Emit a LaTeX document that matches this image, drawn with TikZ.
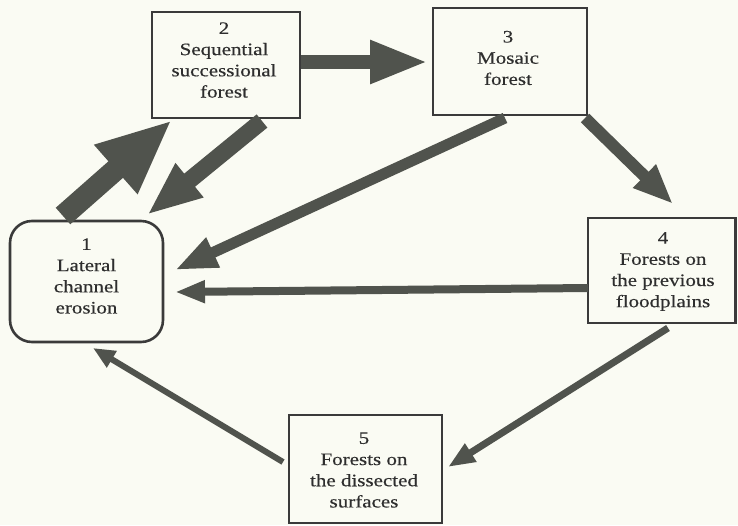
\documentclass[tikz,border=0pt]{standalone}
\usepackage{fontspec}
\setmainfont[FakeStretch=1.2,FakeBold=0.4]{Liberation Serif}
\usetikzlibrary{arrows.meta}
\definecolor{bgc}{HTML}{FAFBF3}
\definecolor{arrc}{HTML}{50534D}
\definecolor{boxc}{HTML}{3A3A3A}
\definecolor{txtc}{HTML}{2E2E2E}
\tikzset{
  boxnode/.style={draw=boxc, line width=2.6pt, fill=none, inner sep=0pt},
  lbl/.style={align=center, font=\fontsize{17.5}{21.2}\selectfont, text=txtc, inner sep=0pt},
  blk/.style n args={3}{draw=arrc, line width=#1, line cap=butt, -{Triangle[length=#2, width=#3]}}
}
\begin{document}
\begin{tikzpicture}[x=1pt,y=-1pt]
\fill[bgc] (0,0) rectangle (738,525);
\useasboundingbox (0,0) rectangle (738,525);
% boxes
\node[boxnode, rounded corners=22pt, minimum width=153pt, minimum height=121pt] (n1) at (86.5,281.5) {};
\node[boxnode, minimum width=148pt, minimum height=106pt] (n2) at (226,65) {};
\node[boxnode, minimum width=154pt, minimum height=107pt] (n3) at (510,61.5) {};
\node[boxnode, minimum width=147.5pt, minimum height=105pt] (n4) at (661.75,270.5) {};
\node[boxnode, minimum width=153pt, minimum height=108pt] (n5) at (365.5,469) {};
% labels
\node[lbl] (t1) at (86.5,276) {1\\Lateral\\channel\\erosion};
\node[lbl] (t2) at (224,60) {2\\Sequential\\successional\\forest};
\node[lbl] (t3) at (508,58) {3\\Mosaic\\forest};
\node[lbl] (t4) at (663,271.5) {4\\Forests on\\the previous\\floodplains};
\node[lbl] (t5) at (364,470) {5\\Forests on\\the dissected\\surfaces};
% connector end points
\coordinate (a1) at (63,216);   \coordinate (a2) at (172,120);
\coordinate (b1) at (262,121);  \coordinate (b2) at (147,215);
\coordinate (c2) at (428,62);
\coordinate (d1) at (505,118);  \coordinate (d2) at (175,270);
\coordinate (e1) at (585,118);  \coordinate (e2) at (673,204);
\coordinate (f1) at (588,288);  \coordinate (f2) at (175,292);
\coordinate (g1) at (668,328);  \coordinate (g2) at (448,467);
\coordinate (h1) at (283,462);  \coordinate (h2) at (93,348);
% arrows
\draw[blk={22pt}{75pt}{60pt}] (a1) -- (a2);
\draw[blk={17pt}{55pt}{40pt}] (b1) -- (b2);
\draw[blk={14pt}{58pt}{40pt}] (n2.east |- c2) -- (c2);
\draw[blk={11pt}{42pt}{30pt}] (d1) -- (d2);
\draw[blk={12pt}{40pt}{30pt}] (e1) -- (e2);
\draw[blk={8pt}{30pt}{21pt}] (f1) -- (f2);
\draw[blk={7pt}{27pt}{20pt}] (g1) -- (g2);
\draw[blk={6pt}{22pt}{18pt}] (h1) -- (h2);
\end{tikzpicture}
\end{document}
